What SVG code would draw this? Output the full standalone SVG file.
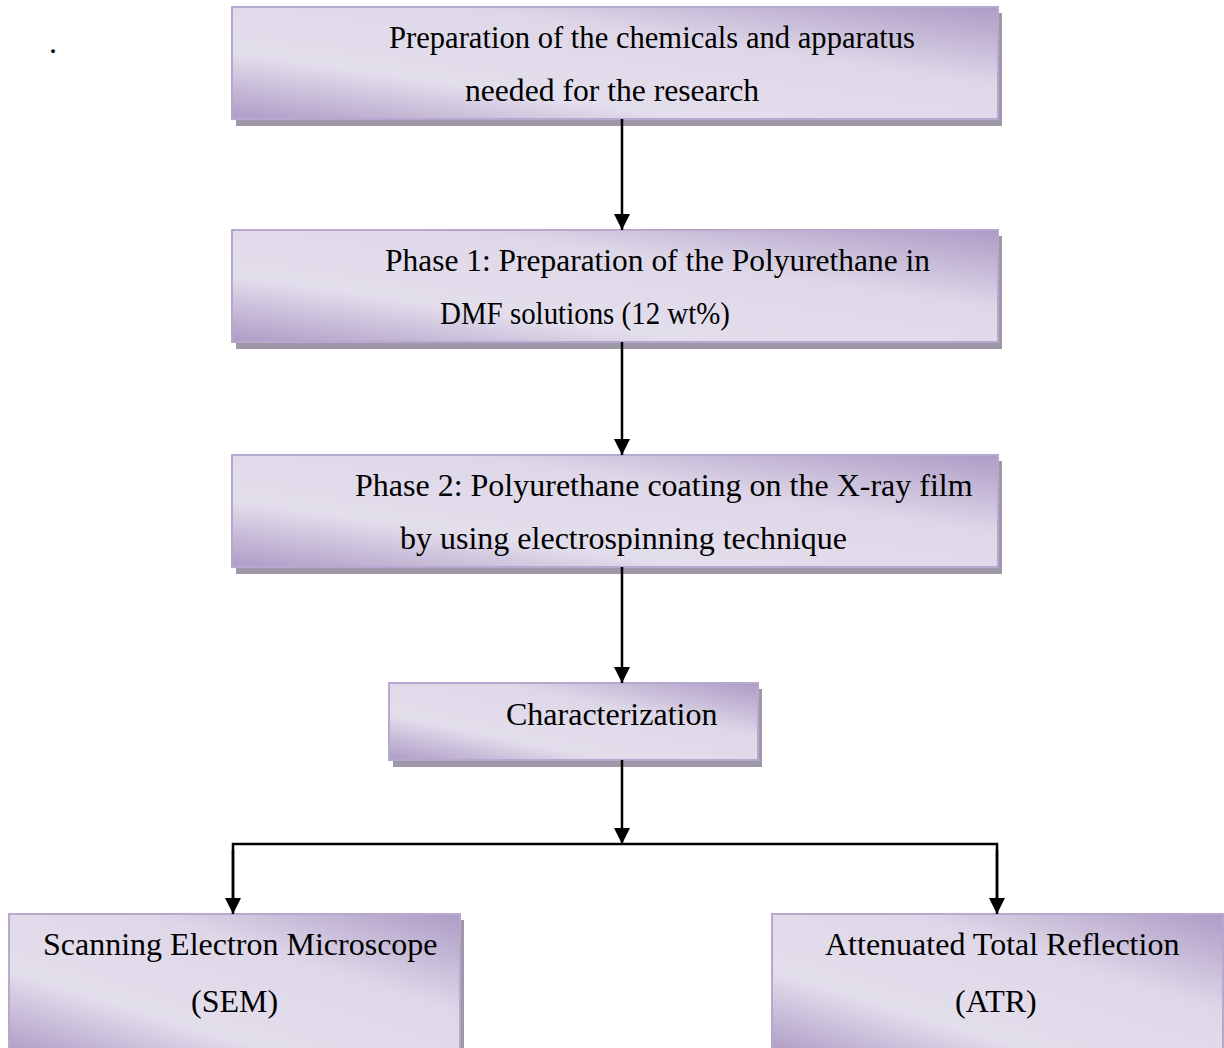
<svg xmlns="http://www.w3.org/2000/svg" width="1224" height="1048" viewBox="0 0 1224 1048">
<defs>
<linearGradient id="g" x1="0" y1="1" x2="1" y2="0">
<stop offset="0" stop-color="#ad9bc5"/>
<stop offset="0.3" stop-color="#e3deec"/>
<stop offset="0.65" stop-color="#ded7e8"/>
<stop offset="1" stop-color="#ad9bc5"/>
</linearGradient>
<marker id="ah" viewBox="0 0 10 10" refX="10" refY="5" markerWidth="16" markerHeight="16" markerUnits="userSpaceOnUse" orient="auto">
<path d="M0,0 L10,5 L0,10 Z" fill="#000"/>
</marker>
<style>
.sh{fill:#9e98a8}
.bx{fill:url(#g);stroke:#b7a8cf;stroke-width:2}
.t{font-family:"Liberation Serif","Times New Roman",serif;font-size:32px;fill:#000}
.c{fill:none;stroke:#000;stroke-width:2.5}
</style>
</defs>
<rect width="1224" height="1048" fill="#fff"/>
<text class="t" x="49" y="53">.</text>
<g id="n1">
<rect class="sh" x="236" y="13" width="766" height="113"/>
<rect class="bx" x="232" y="7" width="766" height="112"/>
<text class="t" x="389" y="48" textLength="526" lengthAdjust="spacingAndGlyphs">Preparation of the chemicals and apparatus</text>
<text class="t" x="465" y="101" textLength="294" lengthAdjust="spacingAndGlyphs">needed for the research</text>
</g>
<g id="n2">
<rect class="sh" x="236" y="236" width="766" height="113"/>
<rect class="bx" x="232" y="230" width="766" height="112"/>
<text class="t" x="385" y="271" textLength="545" lengthAdjust="spacingAndGlyphs">Phase 1: Preparation of the Polyurethane in</text>
<text class="t" x="440" y="324" textLength="290" lengthAdjust="spacingAndGlyphs">DMF solutions (12 wt%)</text>
</g>
<g id="n3">
<rect class="sh" x="236" y="461" width="766" height="113"/>
<rect class="bx" x="232" y="455" width="766" height="112"/>
<text class="t" x="355" y="496">Phase 2: Polyurethane coating on the X-ray film</text>
<text class="t" x="400" y="549">by using electrospinning technique</text>
</g>
<g id="n4">
<rect class="sh" x="393" y="689" width="369" height="78"/>
<rect class="bx" x="389" y="683" width="369" height="77"/>
<text class="t" x="506" y="725">Characterization</text>
</g>
<g id="n5">
<rect class="sh" x="13" y="920" width="451" height="140"/>
<rect class="bx" x="9" y="914" width="451" height="140"/>
<text class="t" x="43" y="955">Scanning Electron Microscope</text>
<text class="t" x="191" y="1012">(SEM)</text>
</g>
<g id="n6">
<rect class="sh" x="776" y="920" width="451" height="140"/>
<rect class="bx" x="772" y="914" width="451" height="140"/>
<text class="t" x="825" y="955">Attenuated Total Reflection</text>
<text class="t" x="955" y="1012">(ATR)</text>
</g>
<g id="connectors">
<line class="c" x1="622" y1="119" x2="622" y2="230" marker-end="url(#ah)"/>
<line class="c" x1="622" y1="342" x2="622" y2="455" marker-end="url(#ah)"/>
<line class="c" x1="622" y1="567" x2="622" y2="683" marker-end="url(#ah)"/>
<line class="c" x1="622" y1="760" x2="622" y2="844" marker-end="url(#ah)"/>
<polyline class="c" points="233,900 233,844 997,844 997,900"/>
<line class="c" x1="233" y1="850" x2="233" y2="914" marker-end="url(#ah)"/>
<line class="c" x1="997" y1="850" x2="997" y2="914" marker-end="url(#ah)"/>
</g>
</svg>
